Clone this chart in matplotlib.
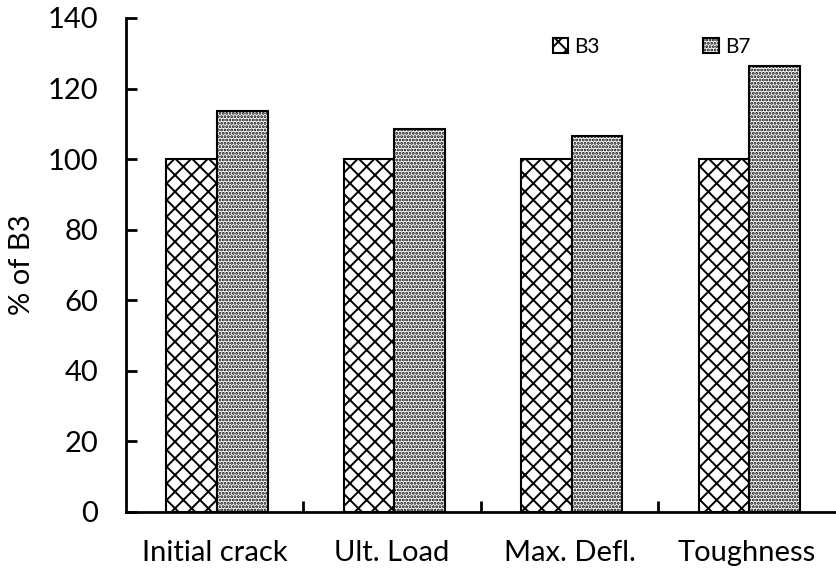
import matplotlib
matplotlib.use("Agg")
import matplotlib.pyplot as plt
import numpy as np

plt.rcParams['font.family'] = ['Lato', 'DejaVu Sans']
plt.rcParams['hatch.linewidth'] = 1.4

categories = ["Initial crack", "Ult. Load", "Max. Defl.", "Toughness"]
series_names = ["B3", "B7"]
b3_values = [100, 100, 100, 100]
b7_values = [113.5, 108.5, 106.5, 126.5]
yticks = [0, 20, 40, 60, 80, 100, 120, 140]

fig = plt.figure(figsize=(8.36, 5.69), dpi=100)
ax = fig.add_axes([0.1507, 0.1002, 0.849, 0.8682])

x = np.arange(len(categories))
w = 0.285
ax.bar(x - w/2 + 0.013, b3_values, w, facecolor='white', edgecolor='black',
       hatch='xx', linewidth=1.5, label=series_names[0])
ax.bar(x + w/2 + 0.013, b7_values, w, facecolor='white', edgecolor='#6a6a6a',
       hatch='.....', linewidth=1.5, label=series_names[1])
for p in ax.patches:
    p.set_edgecolor('black')

ax.set_xlim(-0.5, 3.5)
ax.set_ylim(0, 140)
ax.set_yticks(yticks)
ax.set_xticks(x)
ax.set_xticklabels(categories)
ax.set_xticks([0.5, 1.5, 2.5], minor=True)
ax.tick_params(axis='x', which='major', length=0, pad=20, labelsize=21)
ax.tick_params(axis='x', which='minor', direction='in', length=8, width=2)
ax.tick_params(axis='y', direction='in', length=8, width=2, labelsize=21, pad=20)
ax.set_ylabel("% of B3", fontsize=21, labelpad=6)
ax.yaxis.set_label_coords(-0.128, 0.5)

for s in ['top', 'right']:
    ax.spines[s].set_visible(False)
for s in ['left', 'bottom']:
    ax.spines[s].set_linewidth(2)

leg = ax.legend(loc='upper left', bbox_to_anchor=(0.601, 0.962), ncol=2, frameon=False,
                fontsize=15, handlelength=0.75, handleheight=0.75, handletextpad=0.3,
                columnspacing=4.95, borderpad=0, borderaxespad=0)

fig.savefig("out.png", dpi=100)
